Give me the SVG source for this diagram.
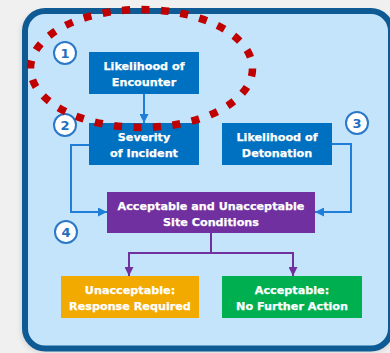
<svg xmlns="http://www.w3.org/2000/svg" width="390" height="353" viewBox="0 0 390 353">
  <style>
    .lbl { font-family: "DejaVu Sans", "Liberation Sans", sans-serif; font-weight: bold; font-size: 11.2px; fill: #ffffff; stroke: #ffffff; stroke-width: 0.25; text-anchor: middle; }
    .num { font-family: "DejaVu Sans", "Liberation Sans", sans-serif; font-weight: bold; font-size: 13px; fill: #1f6fc0; text-anchor: middle; }
    .badge { fill: #ffffff; stroke: #2a78c8; stroke-width: 2; }
    .blue { stroke: #1f7fd8; stroke-width: 2; fill: none; }
    .purple { stroke: #7030a0; stroke-width: 2; fill: none; }
  </style>
  <defs>
    <marker id="arrBlue" viewBox="0 0 8 8" refX="8" refY="4" markerWidth="9" markerHeight="9" markerUnits="userSpaceOnUse" orient="auto">
      <path d="M0,0 L8,4 L0,8 Z" fill="#1f7fd8"/>
    </marker>
    <marker id="arrPurple" viewBox="0 0 8 8" refX="8" refY="4" markerWidth="9" markerHeight="9" markerUnits="userSpaceOnUse" orient="auto">
      <path d="M0,0 L8,4 L0,8 Z" fill="#7030a0"/>
    </marker>
    <filter id="shadow" x="-10%" y="-10%" width="120%" height="120%">
      <feGaussianBlur stdDeviation="3"/>
    </filter>
  </defs>

  <!-- page background -->
  <rect x="0" y="0" width="390" height="353" fill="#f0f0f0"/>

  <!-- panel -->
  <rect x="22" y="13" width="372" height="338" rx="20" fill="#000000" opacity="0.15" filter="url(#shadow)"/>
  <rect x="25" y="11" width="366" height="337.5" rx="20" fill="#c4e4fb" stroke="#0d5a94" stroke-width="6"/>

  <!-- connectors -->
  <g id="connectors">
    <path class="blue" d="M144,94 V123" marker-end="url(#arrBlue)"/>
    <path class="blue" d="M89,145 H71 V212 H107" marker-end="url(#arrBlue)"/>
    <path class="blue" d="M332,144 H351 V212 H315" marker-end="url(#arrBlue)"/>
    <path class="purple" d="M211,233 V253"/>
    <path class="purple" d="M129,253 H293"/>
    <path class="purple" d="M129,252 V276" marker-end="url(#arrPurple)"/>
    <path class="purple" d="M293,252 V276" marker-end="url(#arrPurple)"/>
  </g>

  <!-- nodes -->
  <g id="encounter">
    <rect x="89" y="52" width="110" height="42" fill="#0070c0"/>
    <text class="lbl" x="144" y="70">Likelihood of</text>
    <text class="lbl" x="144" y="86">Encounter</text>
  </g>
  <g id="severity">
    <rect x="89" y="123" width="110" height="42" fill="#0070c0"/>
    <text class="lbl" x="144" y="141">Severity</text>
    <text class="lbl" x="144" y="157">of Incident</text>
  </g>
  <g id="detonation">
    <rect x="222" y="123" width="110" height="42" fill="#0070c0"/>
    <text class="lbl" x="277" y="141">Likelihood of</text>
    <text class="lbl" x="277" y="157">Detonation</text>
  </g>
  <g id="conditions">
    <rect x="107" y="192" width="208" height="41" fill="#7030a0"/>
    <text class="lbl" x="211" y="210">Acceptable and Unacceptable</text>
    <text class="lbl" x="211" y="226">Site Conditions</text>
  </g>
  <g id="unacceptable">
    <rect x="61" y="276" width="138" height="42" fill="#f2aa00"/>
    <text class="lbl" x="130" y="294">Unacceptable:</text>
    <text class="lbl" x="130" y="310">Response Required</text>
  </g>
  <g id="acceptable">
    <rect x="222" y="276" width="140" height="42" fill="#00b050"/>
    <text class="lbl" x="292" y="294">Acceptable:</text>
    <text class="lbl" x="292" y="310">No Further Action</text>
  </g>

  <!-- step badges -->
  <g id="step1">
    <circle class="badge" cx="65" cy="53" r="11"/>
    <text class="num" x="65" y="57.5">1</text>
  </g>
  <g id="step2">
    <circle class="badge" cx="65" cy="125" r="11"/>
    <text class="num" x="65" y="129.5">2</text>
  </g>
  <g id="step3">
    <circle class="badge" cx="357" cy="123" r="11"/>
    <text class="num" x="357" y="127.5">3</text>
  </g>
  <g id="step4">
    <circle class="badge" cx="66" cy="232" r="11"/>
    <text class="num" x="66" y="236.5">4</text>
  </g>

  <!-- highlight around the first step -->
  <ellipse id="highlight" cx="141.5" cy="68.5" rx="111" ry="59" fill="none" stroke="#c00000" stroke-width="7.5" stroke-dasharray="8 11.5"/>
</svg>
